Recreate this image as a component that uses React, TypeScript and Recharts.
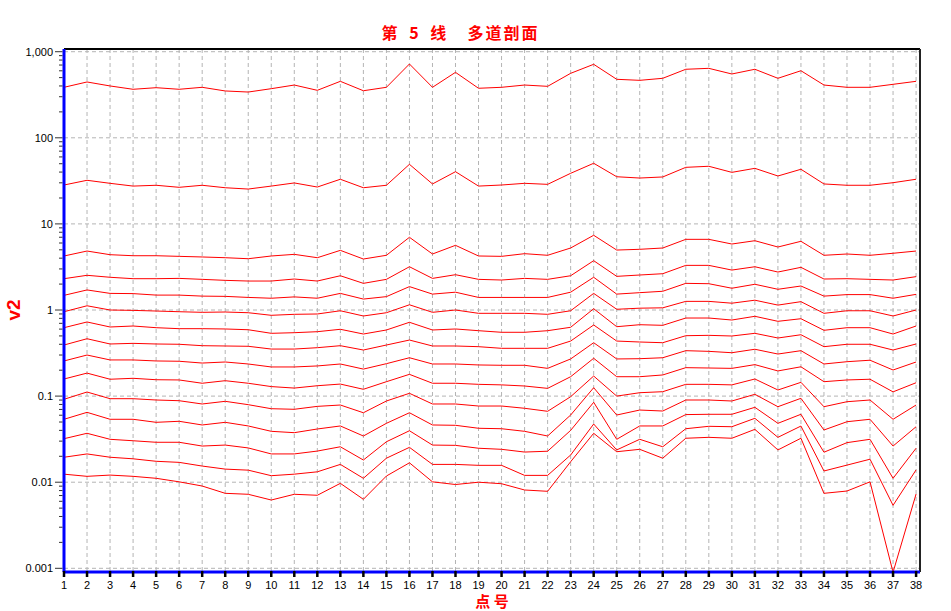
import { CartesianGrid, Line, LineChart, ReferenceLine, XAxis, YAxis } from "recharts";

// 点号 (stations along the profile)
const POINTS = [
  1, 2, 3, 4, 5, 6, 7, 8, 9, 10, 11, 12, 13, 14, 15, 16, 17, 18, 19,
  20, 21, 22, 23, 24, 25, 26, 27, 28, 29, 30, 31, 32, 33, 34, 35, 36, 37, 38,
];

// one array per channel, read top to bottom
const CH_01 = [386, 445, 400, 366, 382, 366, 386, 350, 340, 372, 410, 356, 453, 352, 386, 720, 386, 576, 376, 386, 410, 396, 561, 714, 478, 465, 491, 625, 641, 551, 625, 491, 601, 410, 386, 386, 418, 453];
const CH_02 = [28.3, 32.1, 29.6, 27.5, 28.1, 26.6, 28.1, 26.3, 25.4, 27.5, 29.9, 26.8, 33.0, 26.3, 28.1, 49.2, 29.1, 40.4, 27.5, 28.3, 29.6, 28.8, 38.7, 50.6, 35.3, 34.1, 35.1, 45.4, 46.7, 39.7, 44.2, 36.0, 43.1, 29.1, 28.1, 28.1, 30.1, 33.0];
const CH_03 = [4.24, 4.84, 4.39, 4.27, 4.27, 4.2, 4.13, 4.05, 3.94, 4.24, 4.43, 4.05, 4.93, 3.91, 4.32, 6.99, 4.47, 5.64, 4.24, 4.2, 4.51, 4.32, 5.25, 7.38, 4.97, 5.07, 5.25, 6.62, 6.62, 5.84, 6.38, 5.39, 6.28, 4.32, 4.47, 4.32, 4.56, 4.84];
const CH_04 = [2.31, 2.53, 2.4, 2.31, 2.31, 2.33, 2.27, 2.21, 2.17, 2.17, 2.29, 2.17, 2.5, 2.04, 2.27, 3.18, 2.33, 2.57, 2.27, 2.23, 2.33, 2.27, 2.5, 3.74, 2.46, 2.55, 2.64, 3.3, 3.3, 2.91, 3.18, 2.76, 3.13, 2.29, 2.31, 2.27, 2.23, 2.44];
const CH_05 = [1.48, 1.71, 1.56, 1.55, 1.49, 1.49, 1.45, 1.44, 1.4, 1.37, 1.42, 1.37, 1.56, 1.34, 1.43, 1.87, 1.53, 1.61, 1.4, 1.4, 1.4, 1.4, 1.61, 2.4, 1.53, 1.59, 1.65, 2.04, 2.02, 1.79, 1.99, 1.74, 1.9, 1.45, 1.51, 1.51, 1.37, 1.52];
const CH_06 = [0.955, 1.12, 1.0, 0.99, 0.973, 0.955, 0.94, 0.948, 0.93, 0.868, 0.891, 0.899, 0.98, 0.852, 0.93, 1.15, 0.94, 1.0, 0.915, 0.915, 0.915, 0.891, 0.98, 1.56, 1.02, 1.05, 1.06, 1.26, 1.26, 1.2, 1.3, 1.14, 1.25, 0.915, 0.98, 0.98, 0.852, 1.0];
const CH_07 = [0.623, 0.726, 0.635, 0.652, 0.623, 0.607, 0.607, 0.602, 0.59, 0.536, 0.545, 0.56, 0.597, 0.526, 0.586, 0.72, 0.586, 0.602, 0.575, 0.551, 0.551, 0.575, 0.63, 1.035, 0.64, 0.675, 0.664, 0.807, 0.807, 0.765, 0.845, 0.739, 0.792, 0.581, 0.623, 0.623, 0.526, 0.652];
const CH_08 = [0.392, 0.464, 0.403, 0.41, 0.403, 0.4, 0.385, 0.382, 0.379, 0.352, 0.352, 0.365, 0.385, 0.343, 0.392, 0.448, 0.382, 0.382, 0.375, 0.359, 0.359, 0.359, 0.436, 0.67, 0.436, 0.425, 0.417, 0.503, 0.508, 0.499, 0.536, 0.473, 0.516, 0.375, 0.4, 0.4, 0.343, 0.403];
const CH_09 = [0.256, 0.3, 0.263, 0.263, 0.256, 0.254, 0.242, 0.249, 0.236, 0.218, 0.218, 0.224, 0.236, 0.206, 0.238, 0.279, 0.236, 0.236, 0.23, 0.228, 0.228, 0.21, 0.27, 0.417, 0.27, 0.272, 0.279, 0.337, 0.331, 0.319, 0.35, 0.308, 0.337, 0.236, 0.251, 0.261, 0.201, 0.249];
const CH_10 = [0.158, 0.185, 0.157, 0.161, 0.155, 0.154, 0.141, 0.151, 0.141, 0.129, 0.124, 0.132, 0.138, 0.12, 0.147, 0.179, 0.141, 0.141, 0.137, 0.135, 0.131, 0.123, 0.168, 0.275, 0.168, 0.168, 0.176, 0.214, 0.212, 0.21, 0.232, 0.196, 0.219, 0.147, 0.154, 0.157, 0.112, 0.143];
const CH_11 = [0.0918, 0.1116, 0.0933, 0.0933, 0.0901, 0.0884, 0.081, 0.087, 0.0795, 0.0714, 0.0703, 0.076, 0.0788, 0.0641, 0.0877, 0.1078, 0.081, 0.081, 0.0767, 0.0767, 0.0722, 0.0666, 0.0984, 0.171, 0.1, 0.1095, 0.1125, 0.137, 0.137, 0.135, 0.158, 0.1177, 0.1446, 0.0753, 0.0861, 0.0901, 0.0538, 0.0788];
const CH_12 = [0.0538, 0.0648, 0.0538, 0.0538, 0.0496, 0.051, 0.0462, 0.0496, 0.045, 0.039, 0.0376, 0.0415, 0.045, 0.0344, 0.0483, 0.0641, 0.0462, 0.0458, 0.0423, 0.0418, 0.039, 0.0344, 0.0603, 0.1252, 0.0603, 0.0689, 0.0671, 0.0901, 0.0901, 0.0877, 0.1049, 0.0753, 0.0943, 0.0404, 0.0504, 0.0538, 0.0263, 0.0441];
const CH_13 = [0.032, 0.037, 0.0315, 0.0303, 0.0291, 0.0291, 0.0263, 0.027, 0.025, 0.0213, 0.0213, 0.023, 0.0258, 0.0181, 0.0295, 0.0396, 0.027, 0.0268, 0.0248, 0.0241, 0.0224, 0.0229, 0.04, 0.0847, 0.0315, 0.045, 0.045, 0.061, 0.0615, 0.0615, 0.0741, 0.0483, 0.0615, 0.0223, 0.0288, 0.0315, 0.0111, 0.0248];
const CH_14 = [0.0195, 0.0213, 0.0195, 0.0187, 0.0175, 0.017, 0.0154, 0.0142, 0.0138, 0.0119, 0.0124, 0.0132, 0.0161, 0.0111, 0.019, 0.0254, 0.0161, 0.0161, 0.0157, 0.0157, 0.012, 0.012, 0.0207, 0.0474, 0.0237, 0.0315, 0.0258, 0.0418, 0.0446, 0.0441, 0.0552, 0.0332, 0.0449, 0.0135, 0.0158, 0.0185, 0.00539, 0.0139];
const CH_15 = [0.0124, 0.0117, 0.0121, 0.0117, 0.0111, 0.0101, 0.00903, 0.00743, 0.00724, 0.00621, 0.00724, 0.00705, 0.0097, 0.00633, 0.0118, 0.0168, 0.0101, 0.0094, 0.01, 0.0096, 0.00812, 0.00784, 0.0173, 0.037, 0.0226, 0.0241, 0.019, 0.0324, 0.0332, 0.0324, 0.0411, 0.0237, 0.0324, 0.00743, 0.0079, 0.0101, 0.0009, 0.00729];

const CHANNELS = [CH_01, CH_02, CH_03, CH_04, CH_05, CH_06, CH_07, CH_08, CH_09, CH_10, CH_11, CH_12, CH_13, CH_14, CH_15];

const Y_MAJOR = [0.001, 0.01, 0.1, 1, 10, 100, 1000];
const Y_MAJOR_LABELS = ["0.001", "0.01", "0.1", "1", "10", "100", "1,000"];
const Y_MINOR_STEPS = [2, 3, 4, 5, 6, 7, 8, 9];

// axis range runs a few pixels past the first/last tick, like the original
const X_DOMAIN: [number, number] = [1, 38.17];
const Y_DOMAIN: [number, number] = [0.000906, 1075];

const Y_TICKS = Y_MAJOR.flatMap((d, i) =>
  i < Y_MAJOR.length - 1 ? [d, ...Y_MINOR_STEPS.map((m) => m * d)] : [d]
);

const rows = POINTS.map((p, i) => {
  const row: Record<string, number> = { point: p };
  CHANNELS.forEach((ch, k) => {
    row[`c${k}`] = ch[i];
  });
  return row;
});

const RED = "#ff0000";
const BLUE = "#0000ff";
const GRID = "#b4b4b4";
const TICK_FONT = "'Liberation Sans', Arial, sans-serif";

function YTick({ x, y, payload }: any) {
  const idx = Y_MAJOR.indexOf(payload.value);
  const major = idx >= 0;
  return (
    <g>
      <line x1={x - (major ? 9 : 5)} x2={x - 1.5} y1={y} y2={y} stroke="#333" />
      {major && (
        <text x={x - 11} y={y} dy="0.35em" textAnchor="end" fontSize={11} fontFamily={TICK_FONT} fill="#000">
          {Y_MAJOR_LABELS[idx]}
        </text>
      )}
    </g>
  );
}

function XTick({ x, y, payload }: any) {
  return (
    <g>
      <line x1={x} x2={x} y1={y - 1} y2={y + 5} stroke="#000" strokeWidth={2.5} />
      <text x={x} y={y + 17} textAnchor="middle" fontSize={11} fontFamily={TICK_FONT} fill="#000">
        {payload.value}
      </text>
    </g>
  );
}

export default function App() {
  return (
    <div style={{ position: "absolute", left: 0, top: 0, width: 951, height: 611, background: "#fff" }}>
      <LineChart width={951} height={611} data={rows} margin={{ top: 49, right: 31, bottom: 9, left: 4 }}>
        <CartesianGrid horizontal={false} stroke={GRID} strokeDasharray="4 3" />
        {Y_MAJOR.map((v) => (
          <ReferenceLine key={v} y={v} stroke={GRID} strokeDasharray="4 3" />
        ))}
        <XAxis
          dataKey="point"
          type="number"
          domain={X_DOMAIN}
          ticks={POINTS}
          interval={0}
          tickSize={0}
          tickMargin={0}
          height={30}
          axisLine={{ stroke: BLUE, strokeWidth: 3 }}
          tickLine={false}
          tick={<XTick />}
        />
        <YAxis
          type="number"
          scale="log"
          domain={Y_DOMAIN}
          allowDataOverflow
          ticks={Y_TICKS}
          interval={0}
          tickSize={0}
          tickMargin={0}
          width={60}
          axisLine={{ stroke: BLUE, strokeWidth: 3 }}
          tickLine={false}
          tick={<YTick />}
        />
        {CHANNELS.map((_, k) => (
          <Line
            key={k}
            dataKey={`c${k}`}
            type="linear"
            stroke={RED}
            strokeWidth={1}
            dot={false}
            isAnimationActive={false}
          />
        ))}
        <ReferenceLine y={Y_DOMAIN[1]} stroke="#000" strokeWidth={2} />
        <ReferenceLine x={X_DOMAIN[1]} stroke="#222" strokeWidth={2} />
      </LineChart>
      <svg width={951} height={611} style={{ position: "absolute", left: 0, top: 0, pointerEvents: "none" }}>
        <text
          x={460.5}
          y={39}
          textAnchor="middle"
          fontSize={16}
          fontWeight="bold"
          fill={RED}
          fontFamily="'Noto Sans CJK SC', sans-serif"
          letterSpacing={2}
          wordSpacing={4}
          style={{ whiteSpace: "pre" }}
        >
          第 5 线  多道剖面
        </text>
        <text
          transform="translate(20,310) rotate(-90)"
          textAnchor="middle"
          fontSize={19}
          fontWeight="bold"
          fill={RED}
          fontFamily="'Liberation Sans', Arial, sans-serif"
        >
          v2
        </text>
        <text
          x={492}
          y={607}
          textAnchor="middle"
          fontSize={15}
          fontWeight="bold"
          fill={RED}
          fontFamily="'Noto Sans CJK SC', sans-serif"
          style={{ whiteSpace: "pre" }}
        >
          点 号
        </text>
      </svg>
    </div>
  );
}
